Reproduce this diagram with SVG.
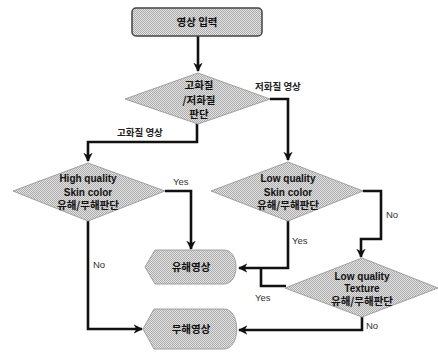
<svg xmlns="http://www.w3.org/2000/svg" width="438" height="353" viewBox="0 0 438 353">
<style>
.shape{fill:url(#dither);stroke:#a0a0a0;stroke-width:1}
.box{fill:url(#dither);stroke:#444;stroke-width:1.5}
.ko{font-family:"Noto Sans CJK KR","Noto Sans",sans-serif;font-weight:bold;font-size:10.5px;fill:#111;text-anchor:middle}
.en{font-family:"Liberation Sans",Arial,sans-serif;font-weight:bold;font-size:10px;fill:#111;text-anchor:middle}
.lbl{font-family:"Liberation Sans",Arial,sans-serif;font-size:9.5px;fill:#333}
.lblk{font-family:"Noto Sans CJK KR",sans-serif;font-weight:bold;font-size:9.5px;fill:#222}
.line{fill:none;stroke:#111;stroke-width:2.6;stroke-linejoin:miter}
</style>
<defs>
<pattern id="dither" width="2" height="2" patternUnits="userSpaceOnUse">
<rect width="2" height="2" fill="#e2e2e2"/>
<rect width="1" height="1" fill="#acacac"/>
<rect x="1" y="1" width="1" height="1" fill="#acacac"/>
</pattern>
<marker id="arr" viewBox="0 0 10 10" refX="9" refY="5" markerWidth="3.6" markerHeight="3.6" orient="auto" markerUnits="strokeWidth">
<path d="M0,0 L10,5 L0,10 L3,5 Z" fill="#111"/>
</marker>
</defs>
<g id="connectors">
<path class="line" d="M198,36 L198,71" marker-end="url(#arr)"/>
<path class="line" d="M197,123 L197,142 L88,142 L88,161" marker-end="url(#arr)"/>
<path class="line" d="M270,99 L288,99 L288,160" marker-end="url(#arr)"/>
<path class="line" d="M165,191 L191,191 L191,249" marker-end="url(#arr)"/>
<path class="line" d="M88,221 L88,329 L142,329" marker-end="url(#arr)"/>
<path class="line" d="M363,191 L381,191 L381,239 L361,239 L361,257" marker-end="url(#arr)"/>
<path class="line" d="M288,220 L288,268 L239,268" marker-end="url(#arr)"/>
<path class="line" d="M286,286 L261,286 L261,268"/>
<path class="line" d="M362,317 L362,330 L239,330" marker-end="url(#arr)"/>
<text class="lblk" x="255" y="90">저화질 영상</text>
<text class="lblk" x="117" y="136">고화질 영상</text>
<text class="lbl" x="173" y="185">Yes</text>
<text class="lbl" x="93" y="268">No</text>
<text class="lbl" x="292" y="244">Yes</text>
<text class="lbl" x="386" y="218">No</text>
<text class="lbl" x="255" y="301">Yes</text>
<text class="lbl" x="366" y="329">No</text>
</g>
<g id="start">
<rect class="box" x="132" y="8" width="130" height="28" rx="4"/>
<text class="ko" x="197" y="26">영상 입력</text>
</g>
<g id="decision-quality">
<polygon class="shape" points="198,73 270,99 198,124 125,99"/>
<text class="ko" x="199" y="89">고화질</text>
<text class="ko" x="199" y="104">/저화질</text>
<text class="ko" x="199" y="118">판단</text>
</g>
<g id="decision-hq-skin">
<polygon class="shape" points="88,163 165,191 88,221 13,191"/>
<text class="en" x="88" y="182">High quality</text>
<text class="en" x="88" y="196">Skin color</text>
<text class="ko" x="88" y="209">유해/무해판단</text>
</g>
<g id="decision-lq-skin">
<polygon class="shape" points="288,162 363,191 288,221 211,191"/>
<text class="en" x="288" y="182">Low quality</text>
<text class="en" x="288" y="196">Skin color</text>
<text class="ko" x="288" y="209">유해/무해판단</text>
</g>
<g id="decision-lq-texture">
<polygon class="shape" points="362,258 438,288 362,317 285,288"/>
<text class="en" x="362" y="280">Low quality</text>
<text class="en" x="362" y="292">Texture</text>
<text class="ko" x="362" y="305">유해/무해판단</text>
</g>
<g id="harmful">
<path class="shape" d="M145,267 L155,250 L224,250 C240,250 240,284 224,284 L155,284 Z"/>
<text class="ko" x="191" y="271">유해영상</text>
</g>
<g id="harmless">
<path class="shape" d="M143,329 L154,309 L224,309 C241,309 241,349 224,349 L154,349 Z"/>
<text class="ko" x="191" y="333">무해영상</text>
</g>
</svg>
